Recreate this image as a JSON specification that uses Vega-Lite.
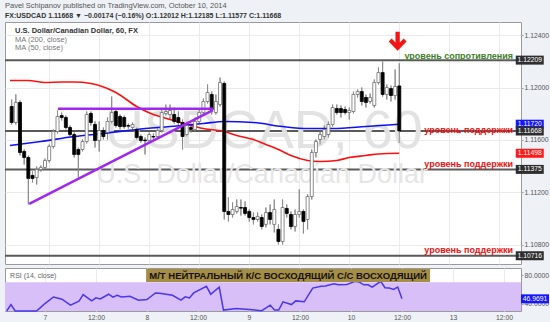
{
"$schema": "https://vega.github.io/schema/vega-lite/v6.json",
"background": "#eef1f5",
"padding": {"left": 3, "top": 2, "right": 0, "bottom": 0},
"spacing": 2,
"title": {"text": "Pavel Schipanov published on TradingView.com, October 10, 2014", "subtitle": "FX:USDCAD 1.11668 ▼ −0.00174 (−0.16%) O:1.12012 H:1.12185 L:1.11577 C:1.11668", "anchor": "start", "frame": "group", "font": "Liberation Sans", "fontSize": 7.5, "fontWeight": "normal", "color": "#555", "subtitleFont": "Liberation Sans", "subtitleFontSize": 7, "subtitleFontWeight": "bold", "subtitleColor": "#333", "subtitlePadding": 2, "offset": 3},
"datasets": {
"one": [{}],
"candles": [
{"t":-9,"o":1.11855,"hi":1.11908,"lo":1.11718,"c":1.11733},
{"t":-8,"o":1.11733,"hi":1.11947,"lo":1.11718,"c":1.11886},
{"t":-7,"o":1.11886,"hi":1.11901,"lo":1.11481,"c":1.11504},
{"t":-6,"o":1.11512,"hi":1.11527,"lo":1.11412,"c":1.11466},
{"t":-5,"o":1.11466,"hi":1.11481,"lo":1.11107,"c":1.11306},
{"t":-4,"o":1.11329,"hi":1.11359,"lo":1.11275,"c":1.11306},
{"t":-3,"o":1.11313,"hi":1.11397,"lo":1.11260,"c":1.11374},
{"t":-2,"o":1.11374,"hi":1.11405,"lo":1.11359,"c":1.11390},
{"t":-1,"o":1.11390,"hi":1.11458,"lo":1.11374,"c":1.11443},
{"t":0,"o":1.11443,"hi":1.11565,"lo":1.11428,"c":1.11550},
{"t":1,"o":1.11550,"hi":1.11680,"lo":1.11535,"c":1.11664},
{"t":2,"o":1.11664,"hi":1.11825,"lo":1.11649,"c":1.11779},
{"t":3,"o":1.11786,"hi":1.11809,"lo":1.11748,"c":1.11771},
{"t":4,"o":1.11771,"hi":1.11786,"lo":1.11680,"c":1.11695},
{"t":5,"o":1.11695,"hi":1.11710,"lo":1.11626,"c":1.11641},
{"t":6,"o":1.11641,"hi":1.11657,"lo":1.11466,"c":1.11489},
{"t":7,"o":1.11527,"hi":1.11542,"lo":1.11313,"c":1.11489},
{"t":8,"o":1.11527,"hi":1.11603,"lo":1.11512,"c":1.11588},
{"t":9,"o":1.11588,"hi":1.11817,"lo":1.11573,"c":1.11794},
{"t":10,"o":1.11802,"hi":1.11817,"lo":1.11710,"c":1.11733},
{"t":11,"o":1.11718,"hi":1.11741,"lo":1.11542,"c":1.11596},
{"t":12,"o":1.11596,"hi":1.11741,"lo":1.11512,"c":1.11672},
{"t":13,"o":1.11672,"hi":1.11695,"lo":1.11603,"c":1.11626},
{"t":14,"o":1.11657,"hi":1.11771,"lo":1.11603,"c":1.11741},
{"t":15,"o":1.11741,"hi":1.11931,"lo":1.11725,"c":1.11809},
{"t":16,"o":1.11817,"hi":1.11832,"lo":1.11695,"c":1.11710},
{"t":17,"o":1.11779,"hi":1.11794,"lo":1.11680,"c":1.11702},
{"t":18,"o":1.11771,"hi":1.11786,"lo":1.11687,"c":1.11702},
{"t":19,"o":1.11710,"hi":1.11725,"lo":1.11687,"c":1.11705},
{"t":20,"o":1.11695,"hi":1.11733,"lo":1.11680,"c":1.11718},
{"t":21,"o":1.11680,"hi":1.11695,"lo":1.11603,"c":1.11619},
{"t":22,"o":1.11626,"hi":1.11641,"lo":1.11580,"c":1.11596},
{"t":23,"o":1.11599,"hi":1.11619,"lo":1.11489,"c":1.11594},
{"t":24,"o":1.11596,"hi":1.11657,"lo":1.11580,"c":1.11641},
{"t":25,"o":1.11626,"hi":1.11649,"lo":1.11603,"c":1.11622},
{"t":26,"o":1.11626,"hi":1.11687,"lo":1.11611,"c":1.11672},
{"t":27,"o":1.11672,"hi":1.11832,"lo":1.11657,"c":1.11809},
{"t":28,"o":1.11802,"hi":1.11870,"lo":1.11786,"c":1.11817},
{"t":29,"o":1.11794,"hi":1.11870,"lo":1.11756,"c":1.11825},
{"t":30,"o":1.11794,"hi":1.11847,"lo":1.11725,"c":1.11741},
{"t":31,"o":1.11771,"hi":1.11817,"lo":1.11710,"c":1.11733},
{"t":32,"o":1.11733,"hi":1.11756,"lo":1.11527,"c":1.11626},
{"t":33,"o":1.11641,"hi":1.11741,"lo":1.11626,"c":1.11710},
{"t":34,"o":1.11695,"hi":1.11725,"lo":1.11657,"c":1.11680},
{"t":35,"o":1.11680,"hi":1.11771,"lo":1.11664,"c":1.11741},
{"t":36,"o":1.11741,"hi":1.11832,"lo":1.11725,"c":1.11809},
{"t":37,"o":1.11809,"hi":1.11916,"lo":1.11794,"c":1.11893},
{"t":38,"o":1.11893,"hi":1.12023,"lo":1.11878,"c":1.11962},
{"t":39,"o":1.11947,"hi":1.11969,"lo":1.11794,"c":1.11832},
{"t":40,"o":1.11809,"hi":1.11947,"lo":1.11794,"c":1.11893},
{"t":41,"o":1.11870,"hi":1.12076,"lo":1.11855,"c":1.12038},
{"t":42,"o":1.12031,"hi":1.12046,"lo":1.10993,"c":1.11054},
{"t":43,"o":1.11054,"hi":1.11161,"lo":1.10978,"c":1.11031},
{"t":44,"o":1.11031,"hi":1.11123,"lo":1.11008,"c":1.11069},
{"t":45,"o":1.11054,"hi":1.11145,"lo":1.11039,"c":1.11092},
{"t":46,"o":1.11084,"hi":1.11145,"lo":1.11023,"c":1.11079},
{"t":47,"o":1.11084,"hi":1.11130,"lo":1.11023,"c":1.11039},
{"t":48,"o":1.11054,"hi":1.11069,"lo":1.10978,"c":1.11008},
{"t":49,"o":1.11008,"hi":1.11046,"lo":1.10955,"c":1.10993},
{"t":50,"o":1.10993,"hi":1.11046,"lo":1.10978,"c":1.11016},
{"t":51,"o":1.11008,"hi":1.11031,"lo":1.10917,"c":1.10939},
{"t":52,"o":1.10955,"hi":1.11084,"lo":1.10932,"c":1.11046},
{"t":53,"o":1.11046,"hi":1.11107,"lo":1.10955,"c":1.10993},
{"t":54,"o":1.10955,"hi":1.11145,"lo":1.10894,"c":1.11069},
{"t":55,"o":1.10917,"hi":1.10955,"lo":1.10802,"c":1.10825},
{"t":56,"o":1.10825,"hi":1.11145,"lo":1.10802,"c":1.11084},
{"t":57,"o":1.11077,"hi":1.11107,"lo":1.11008,"c":1.11039},
{"t":58,"o":1.11031,"hi":1.11054,"lo":1.10917,"c":1.10939},
{"t":59,"o":1.10939,"hi":1.11069,"lo":1.10901,"c":1.11031},
{"t":60,"o":1.11031,"hi":1.11222,"lo":1.11008,"c":1.11054},
{"t":61,"o":1.11054,"hi":1.11069,"lo":1.10886,"c":1.10978},
{"t":62,"o":1.10993,"hi":1.11184,"lo":1.10917,"c":1.11168},
{"t":63,"o":1.11168,"hi":1.11527,"lo":1.11145,"c":1.11504},
{"t":64,"o":1.11504,"hi":1.11603,"lo":1.11466,"c":1.11588},
{"t":65,"o":1.11603,"hi":1.11664,"lo":1.11565,"c":1.11641},
{"t":66,"o":1.11626,"hi":1.11710,"lo":1.11603,"c":1.11680},
{"t":67,"o":1.11641,"hi":1.11741,"lo":1.11619,"c":1.11718},
{"t":68,"o":1.11718,"hi":1.11870,"lo":1.11702,"c":1.11847},
{"t":69,"o":1.11840,"hi":1.11870,"lo":1.11794,"c":1.11809},
{"t":70,"o":1.11840,"hi":1.11863,"lo":1.11771,"c":1.11809},
{"t":71,"o":1.11832,"hi":1.11855,"lo":1.11794,"c":1.11809},
{"t":72,"o":1.11809,"hi":1.11847,"lo":1.11756,"c":1.11825},
{"t":73,"o":1.11817,"hi":1.11969,"lo":1.11802,"c":1.11947},
{"t":74,"o":1.11947,"hi":1.11985,"lo":1.11924,"c":1.11969},
{"t":75,"o":1.11969,"hi":1.12000,"lo":1.11863,"c":1.11893},
{"t":76,"o":1.11924,"hi":1.11947,"lo":1.11847,"c":1.11886},
{"t":77,"o":1.11893,"hi":1.11954,"lo":1.11878,"c":1.11924},
{"t":78,"o":1.11863,"hi":1.12061,"lo":1.11847,"c":1.12038},
{"t":79,"o":1.12038,"hi":1.12153,"lo":1.12023,"c":1.12114},
{"t":80,"o":1.12114,"hi":1.12198,"lo":1.11931,"c":1.11947},
{"t":81,"o":1.11947,"hi":1.12023,"lo":1.11908,"c":1.12000},
{"t":82,"o":1.11992,"hi":1.12015,"lo":1.11893,"c":1.11939},
{"t":83,"o":1.11939,"hi":1.12137,"lo":1.11908,"c":1.12008},
{"t":84,"o":1.12012,"hi":1.12185,"lo":1.11577,"c":1.11668}
],
"ma_red": [
{"t":-9.4,"p":1.12053},{"t":-5,"p":1.12053},{"t":-1,"p":1.12038},{"t":3,"p":1.12042},{"t":6,"p":1.12042},{"t":10,"p":1.12031},{"t":12,"p":1.12015},{"t":16,"p":1.11962},{"t":21,"p":1.11855},{"t":25,"p":1.11794},{"t":27,"p":1.11775},{"t":32,"p":1.11729},{"t":37,"p":1.11687},{"t":42,"p":1.11664},{"t":45,"p":1.11634},{"t":49,"p":1.11603},{"t":52,"p":1.11565},{"t":55,"p":1.11527},{"t":58,"p":1.11481},{"t":62,"p":1.11443},{"t":65,"p":1.11435},{"t":69,"p":1.11443},{"t":72,"p":1.11466},{"t":76,"p":1.11481},{"t":79,"p":1.11493},{"t":84,"p":1.11498}
],
"ma_blue": [
{"t":-9.4,"p":1.11557},{"t":-2,"p":1.11588},{"t":6,"p":1.11626},{"t":13,"p":1.11649},{"t":21,"p":1.1168},{"t":29,"p":1.11702},{"t":37,"p":1.11725},{"t":42,"p":1.11741},{"t":49,"p":1.11733},{"t":56,"p":1.11702},{"t":62,"p":1.11687},{"t":68,"p":1.11687},{"t":76,"p":1.11702},{"t":84,"p":1.1172}
],
"levels": [{"p":1.12209},{"p":1.11668},{"p":1.11375},{"p":1.10716}],
"trends": [
{"t1":2.1,"p1":1.11838,"t2":39.3,"p2":1.11838},
{"t1":-4.8,"p1":1.11112,"t2":39.3,"p2":1.11827}
],
"supports": [{"p":1.11653},{"p":1.11394},{"p":1.10737}],
"rsi": [
{"t":-9,"v":30},{"t":-8,"v":39},{"t":-7,"v":30},{"t":-6,"v":30},{"t":-5,"v":30},{"t":-4,"v":30},{"t":-3,"v":30},{"t":-2,"v":30},{"t":-1,"v":35},{"t":0,"v":40.4},{"t":2,"v":49.6},{"t":4,"v":46.5},{"t":6,"v":38.2},{"t":8,"v":43.7},{"t":9,"v":52.8},{"t":11,"v":44.1},{"t":12,"v":48.3},{"t":13,"v":46.9},{"t":15,"v":53.4},{"t":16,"v":49.3},{"t":17,"v":52},{"t":18,"v":49.7},{"t":20,"v":50.6},{"t":22,"v":45.1},{"t":24,"v":46},{"t":26,"v":55.2},{"t":27,"v":54.8},{"t":30,"v":52},{"t":32,"v":45.1},{"t":33,"v":49.7},{"t":34,"v":48.3},{"t":35,"v":55.2},{"t":38,"v":64.4},{"t":39,"v":53.4},{"t":41,"v":63.4},{"t":42,"v":31.3},{"t":45,"v":33.6},{"t":48,"v":32.2},{"t":51,"v":30.5},{"t":53,"v":38.2},{"t":54,"v":31.3},{"t":55,"v":31.3},{"t":56,"v":42.8},{"t":58,"v":39},{"t":59,"v":44.1},{"t":61,"v":42.8},{"t":63,"v":62},{"t":65,"v":64.4},{"t":66,"v":64.8},{"t":68,"v":68},{"t":69,"v":66.6},{"t":71,"v":67.1},{"t":73,"v":71.3},{"t":74,"v":70.3},{"t":75,"v":66.6},{"t":76,"v":66.6},{"t":77,"v":63.4},{"t":79,"v":71.3},{"t":80,"v":62.5},{"t":81,"v":62},{"t":82,"v":60.2},{"t":83,"v":63.4},{"t":84,"v":46.9691}
]
},
"vconcat": [
{
"width": 516, "height": 242,
"layer": [
{"data": {"name": "candles"}, "mark": {"type": "rule", "color": "#8c8c8c", "strokeWidth": 1},
 "encoding": {
  "x": {"field": "t", "type": "quantitative", "scale": {"domain": [-9.4, 112], "nice": false, "zero": false},
        "axis": {"values": [0,12,24,36,48,60,72,84,96,108], "labels": false, "ticks": false, "domain": false, "grid": true, "title": null}},
  "y": {"field": "lo", "type": "quantitative", "scale": {"domain": [1.10653, 1.125], "nice": false, "zero": false},
        "axis": {"orient": "right", "values": [1.108,1.11,1.112,1.114,1.116,1.118,1.12,1.122,1.124], "format": ".5f", "grid": true, "tickSize": 2, "labelPadding": 1, "domain": false, "title": null}},
  "y2": {"field": "hi"}
 }},
{"data": {"name": "levels"}, "mark": {"type": "rule", "color": "#5a5a5a", "strokeWidth": 2}, "encoding": {"y": {"field": "p", "type": "quantitative"}}},
{"data": {"name": "one"}, "mark": {"type": "text", "text": "USDCAD, 60", "font": "Liberation Sans", "fontSize": 54, "color": "#e2e2e2", "align": "center", "baseline": "alphabetic"},
 "encoding": {"x": {"datum": 51.5, "type": "quantitative"}, "y": {"datum": 1.11542, "type": "quantitative"}}},
{"data": {"name": "one"}, "mark": {"type": "text", "text": "U.S. Dollar/Canadian Dollar", "font": "Liberation Sans", "fontSize": 27, "color": "#e6e6e6", "align": "center", "baseline": "alphabetic"},
 "encoding": {"x": {"datum": 51.1, "type": "quantitative"}, "y": {"datum": 1.11271, "type": "quantitative"}}},
{"data": {"name": "candles"}, "mark": {"type": "rule", "color": "#8c8c8c", "strokeWidth": 1},
 "encoding": {"x": {"field": "t", "type": "quantitative"}, "y": {"field": "lo", "type": "quantitative"}, "y2": {"field": "hi"}}},
{"data": {"name": "ma_red"}, "mark": {"type": "line", "color": "#ff1010", "strokeWidth": 1.6, "interpolate": "monotone"},
 "encoding": {"x": {"field": "t", "type": "quantitative"}, "y": {"field": "p", "type": "quantitative"}}},
{"data": {"name": "ma_blue"}, "mark": {"type": "line", "color": "#1010ff", "strokeWidth": 1.6, "interpolate": "monotone"},
 "encoding": {"x": {"field": "t", "type": "quantitative"}, "y": {"field": "p", "type": "quantitative"}}},
{"data": {"name": "candles"}, "mark": {"type": "bar", "size": 3, "strokeWidth": 0.8},
 "encoding": {"x": {"field": "t", "type": "quantitative"}, "y": {"field": "o", "type": "quantitative"}, "y2": {"field": "c"},
  "fill": {"condition": {"test": "datum.c >= datum.o", "value": "#ffffff"}, "value": "#000000"},
  "stroke": {"condition": {"test": "datum.c >= datum.o", "value": "#6e6e6e"}, "value": "#000000"}}},
{"data": {"name": "trends"}, "mark": {"type": "rule", "color": "#9e27f2", "strokeWidth": 2.5},
 "encoding": {"x": {"field": "t1", "type": "quantitative"}, "x2": {"field": "t2"}, "y": {"field": "p1", "type": "quantitative"}, "y2": {"field": "p2"}}},
{"data": {"name": "one"}, "mark": {"type": "text", "text": "U.S. Dollar/Canadian Dollar, 60, FX", "font": "Liberation Sans", "fontSize": 7.5, "fontWeight": "bold", "color": "#333", "align": "left", "baseline": "middle"},
 "encoding": {"x": {"datum": -8.2, "type": "quantitative"}, "y": {"datum": 1.12435, "type": "quantitative"}}},
{"data": {"name": "one"}, "mark": {"type": "text", "text": "MA (200, close)", "font": "Liberation Sans", "fontSize": 7.5, "color": "#777", "align": "left", "baseline": "middle"},
 "encoding": {"x": {"datum": -8.2, "type": "quantitative"}, "y": {"datum": 1.12366, "type": "quantitative"}}},
{"data": {"name": "one"}, "mark": {"type": "text", "text": "MA (50, close)", "font": "Liberation Sans", "fontSize": 7.5, "color": "#777", "align": "left", "baseline": "middle"},
 "encoding": {"x": {"datum": -8.2, "type": "quantitative"}, "y": {"datum": 1.12298, "type": "quantitative"}}},
{"data": {"name": "one"}, "mark": {"type": "text", "text": "уровень сопротивления", "font": "Liberation Sans", "fontSize": 9, "fontWeight": "bold", "color": "#3f7f2a", "align": "right", "baseline": "alphabetic"},
 "encoding": {"x": {"datum": 111.3, "type": "quantitative"}, "y": {"datum": 1.12218, "type": "quantitative"}}},
{"data": {"name": "supports"}, "mark": {"type": "text", "text": "уровень поддержки", "font": "Liberation Sans", "fontSize": 9, "fontWeight": "bold", "color": "#ee1111", "align": "right", "baseline": "alphabetic"},
 "encoding": {"x": {"datum": 111.3, "type": "quantitative"}, "y": {"field": "p", "type": "quantitative"}}},
{"data": {"name": "one"}, "mark": {"type": "point", "shape": "M-0.22,-1 L0.22,-1 L0.22,0.1 L0.62,-0.3 L0.92,0 L0,0.95 L-0.92,0 L-0.62,-0.3 L-0.22,0.1 Z", "size": 380, "filled": true, "color": "#f51414", "opacity": 1},
 "encoding": {"x": {"datum": 83.6, "type": "quantitative"}, "y": {"datum": 1.12351, "type": "quantitative"}}},
{"data": {"name": "one"}, "mark": {"type": "rect", "width": 28, "height": 9, "color": "#1515ff"},
 "encoding": {"x": {"datum": 115.3, "type": "quantitative"}, "y": {"datum": 1.1172, "type": "quantitative"}}},
{"data": {"name": "one"}, "mark": {"type": "text", "text": "1.11720", "font": "Liberation Sans", "fontSize": 6.8, "color": "#ffffff", "align": "center", "baseline": "middle"},
 "encoding": {"x": {"datum": 115.3, "type": "quantitative"}, "y": {"datum": 1.1172, "type": "quantitative"}}},
{"data": {"name": "one"}, "mark": {"type": "rect", "width": 28, "height": 9, "color": "#ff1a1a"},
 "encoding": {"x": {"datum": 115.3, "type": "quantitative"}, "y": {"datum": 1.11498, "type": "quantitative"}}},
{"data": {"name": "one"}, "mark": {"type": "text", "text": "1.11498", "font": "Liberation Sans", "fontSize": 6.8, "color": "#ffffff", "align": "center", "baseline": "middle"},
 "encoding": {"x": {"datum": 115.3, "type": "quantitative"}, "y": {"datum": 1.11498, "type": "quantitative"}}},
{"data": {"name": "levels"}, "mark": {"type": "rect", "width": 28, "height": 9, "color": "#2e2e2e"},
 "encoding": {"x": {"datum": 115.3, "type": "quantitative"}, "y": {"field": "p", "type": "quantitative"}}},
{"data": {"name": "levels"}, "mark": {"type": "text", "font": "Liberation Sans", "fontSize": 6.8, "color": "#ffffff", "align": "center", "baseline": "middle"},
 "encoding": {"x": {"datum": 115.3, "type": "quantitative"}, "y": {"field": "p", "type": "quantitative"}, "text": {"field": "p", "format": ".5f"}}}
]
},
{
"width": 516, "height": 43,
"layer": [
{"data": {"name": "one"}, "mark": {"type": "rect", "color": "#d9bff8"},
 "encoding": {"x": {"datum": -9.4, "type": "quantitative", "scale": {"domain": [-9.4, 112], "nice": false, "zero": false},
   "axis": {"values": [0,12,24,36,48,60,72,84,96,108], "labelExpr": "datum.value % 24 == 12 ? '12:00' : (datum.value == 96 ? '13' : '' + (7 + datum.value / 24))", "grid": true, "ticks": false, "domain": false, "labelPadding": 3, "labelFlush": false, "title": null}},
  "x2": {"datum": 112},
  "y": {"datum": 30, "type": "quantitative", "scale": {"domain": [30, 90], "nice": false, "zero": false},
   "axis": {"orient": "right", "values": [40, 60, 80], "format": ".4f", "grid": false, "tickSize": 2, "labelPadding": 1, "domain": false, "title": null}},
  "y2": {"datum": 70}}},
{"data": {"name": "rsi"}, "mark": {"type": "line", "color": "#4a35f5", "strokeWidth": 1.5},
 "encoding": {"x": {"field": "t", "type": "quantitative"}, "y": {"field": "v", "type": "quantitative"}}},
{"data": {"name": "one"}, "mark": {"type": "text", "text": "RSI (14, close)", "font": "Liberation Sans", "fontSize": 7, "color": "#666", "align": "left", "baseline": "middle"},
 "encoding": {"x": {"datum": -8.2, "type": "quantitative"}, "y": {"datum": 78.8, "type": "quantitative"}}},
{"data": {"name": "one"}, "mark": {"type": "rect", "color": "#a58d44"},
 "encoding": {"x": {"datum": 23.8, "type": "quantitative"}, "x2": {"datum": 90.6}, "y": {"datum": 70.5, "type": "quantitative"}, "y2": {"datum": 88.6}}},
{"data": {"name": "one"}, "mark": {"type": "text", "text": "М/Т НЕЙТРАЛЬНЫЙ К/С ВОСХОДЯЩИЙ С/С ВОСХОДЯЩИЙ", "font": "Liberation Sans", "fontSize": 9.5, "fontWeight": "bold", "color": "#111", "align": "center", "baseline": "middle"},
 "encoding": {"x": {"datum": 57.2, "type": "quantitative"}, "y": {"datum": 79.5, "type": "quantitative"}}},
{"data": {"name": "one"}, "mark": {"type": "rect", "width": 28, "height": 9, "color": "#1515ff"},
 "encoding": {"x": {"datum": 115.3, "type": "quantitative"}, "y": {"datum": 46.9691, "type": "quantitative"}}},
{"data": {"name": "one"}, "mark": {"type": "text", "text": "46.9691", "font": "Liberation Sans", "fontSize": 6.8, "color": "#ffffff", "align": "center", "baseline": "middle"},
 "encoding": {"x": {"datum": 115.3, "type": "quantitative"}, "y": {"datum": 46.9691, "type": "quantitative"}}}
]
}
],
"config": {
 "view": {"fill": "#ffffff", "stroke": "#9a9a9a"},
 "axis": {"labelFont": "Liberation Sans", "labelFontSize": 6.8, "labelColor": "#555", "gridColor": "#ebebeb", "tickColor": "#999", "title": null}
}
}
